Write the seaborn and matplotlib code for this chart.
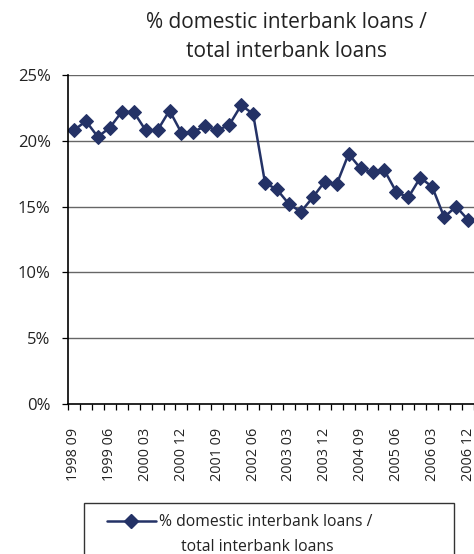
import numpy as np
import pandas as pd
import seaborn as sns
import matplotlib
matplotlib.use("Agg")
import matplotlib.pyplot as plt
from matplotlib.patches import Rectangle
from matplotlib.lines import Line2D
from matplotlib.ticker import FixedLocator, FuncFormatter

periods = [
    "1998 09", "1998 12", "1999 03", "1999 06", "1999 09", "1999 12",
    "2000 03", "2000 06", "2000 09", "2000 12", "2001 03", "2001 06",
    "2001 09", "2001 12", "2002 03", "2002 06", "2002 09", "2002 12",
    "2003 03", "2003 06", "2003 09", "2003 12", "2004 03", "2004 06",
    "2004 09", "2004 12", "2005 03", "2005 06", "2005 09", "2005 12",
    "2006 03", "2006 06", "2006 09", "2006 12",
]
share_pct = [
    20.8, 21.5, 20.3, 21.0, 22.2, 22.2, 20.8, 20.8, 22.3, 20.6, 20.7, 21.1,
    20.8, 21.2, 22.7, 22.05, 16.8, 16.3, 15.2, 14.6, 15.7, 16.9, 16.7, 19.0,
    17.9, 17.6, 17.75, 16.1, 15.7, 17.2, 16.5, 14.2, 15.0, 14.0,
]
series_label = "% domestic interbank loans /\ntotal interbank loans"
title_text = "% domestic interbank loans /\ntotal interbank loans"
y_ticks = [0, 5, 10, 15, 20, 25]

sns.set_theme(style="white")
plt.rcParams["font.family"] = ["Open Sans", "DejaVu Sans"]

df = pd.DataFrame({"idx": np.arange(len(periods)), "period": periods, "value": share_pct})

W, H = 474, 554
fig = plt.figure(figsize=(W / 100, H / 100), dpi=100)
ax = fig.add_axes([68 / W, 1 - 404 / H, (474 - 68) / W, (404 - 75) / H])

color = "#243266"
ms = 7.2
sns.lineplot(data=df, x="idx", y="value", ax=ax, color=color, marker="D",
             markersize=ms, linewidth=1.8, markeredgecolor=color, legend=False)

ax.set_xlim(-0.5, len(periods) - 0.5)
ax.set_ylim(0, 25)
ax.set_yticks(y_ticks)
ax.yaxis.set_major_formatter(FuncFormatter(lambda v, p: f"{v:.0f}%"))
for y in y_ticks[1:]:
    ax.axhline(y, color="#666666", linewidth=1.0, zorder=0)

lab_idx = list(range(0, len(periods), 3))
ax.set_xticks(lab_idx)
ax.set_xticklabels([periods[i] for i in lab_idx], rotation=90, fontsize=10.4, color="#222222")
ax.xaxis.set_minor_locator(FixedLocator(np.arange(-0.5, len(periods), 1.0)))
ax.tick_params(axis="x", which="major", length=0, pad=17)
ax.tick_params(axis="x", which="minor", length=4, width=0.9, color="black", direction="out", bottom=True)
ax.tick_params(axis="y", which="major", length=4.5, width=0.9, color="black", direction="out",
               left=True, pad=8, labelsize=12, labelcolor="#222222")
ax.set_xlabel("")
ax.set_ylabel("")

for s in ["top", "right"]:
    ax.spines[s].set_visible(False)
for s in ["left", "bottom"]:
    ax.spines[s].set_color("black")
    ax.spines[s].set_linewidth(1.2)

fig.text(286 / W, 1 - 37 / H, title_text, ha="center", va="center", fontsize=15,
         color="#222222", linespacing=1.45)

# legend frame (extends past the bottom edge, as in the reference)
fig.patches.append(Rectangle((84 / W, -0.05), (454 - 84) / W, (1 - 503 / H) + 0.05,
                             transform=fig.transFigure, fill=False, edgecolor="#333333",
                             linewidth=1.0))
line1, line2 = series_label.split("\n")
h = Line2D([], [], color=color, marker="D", markersize=ms, linewidth=1.8)
leg = fig.legend([h], [line1], loc="upper left", bbox_to_anchor=(107 / W, 1 - 514 / H),
                 frameon=False, fontsize=11.3, handlelength=3.1, handletextpad=0.2,
                 borderpad=0, borderaxespad=0, labelcolor="#222222")
fig.text(257 / W, 1 - 547 / H, line2, ha="center", va="center", fontsize=11.3, color="#222222")

fig.savefig("out.png", dpi=100)
